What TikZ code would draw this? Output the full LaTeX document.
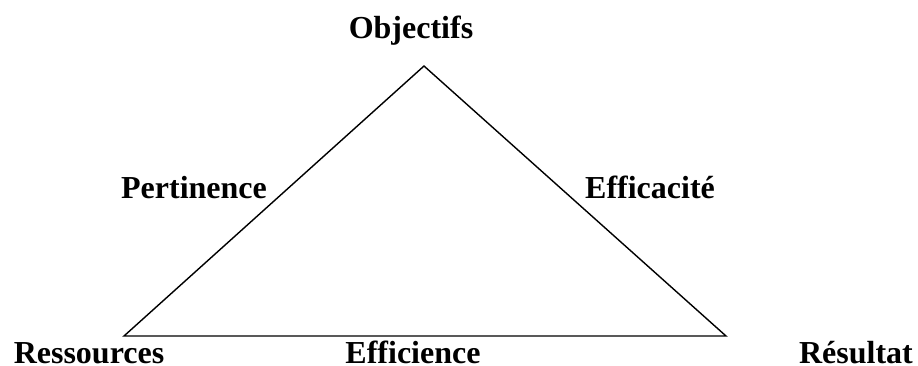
\documentclass[tikz,border=0pt]{standalone}
\usepackage{fontspec}
\setmainfont{Liberation Serif}
\begin{document}
\begin{tikzpicture}[x=1pt,y=-1pt,
  lbl/.style={font=\bfseries\fontsize{32}{32}\selectfont, inner sep=0pt, anchor=base},
  edge/.style={line width=1.4pt, line join=miter}]
\useasboundingbox (0,0) rectangle (918,365);
\coordinate (top) at (424,66);
\coordinate (bl) at (124,336);
\coordinate (br) at (726,336);
\draw[edge] (top) -- (bl) -- (br) -- cycle;
\node[lbl] (obj) at (411,38) {Objectifs};
\node[lbl] (pert) at (194,198) {Pertinence};
\node[lbl] (effi) at (650,198) {Efficacité};
\node[lbl] (res) at (89,363) {Ressources};
\node[lbl] (eff) at (413,363) {Efficience};
\node[lbl] (resu) at (856,363) {Résultat};
\end{tikzpicture}
\end{document}
